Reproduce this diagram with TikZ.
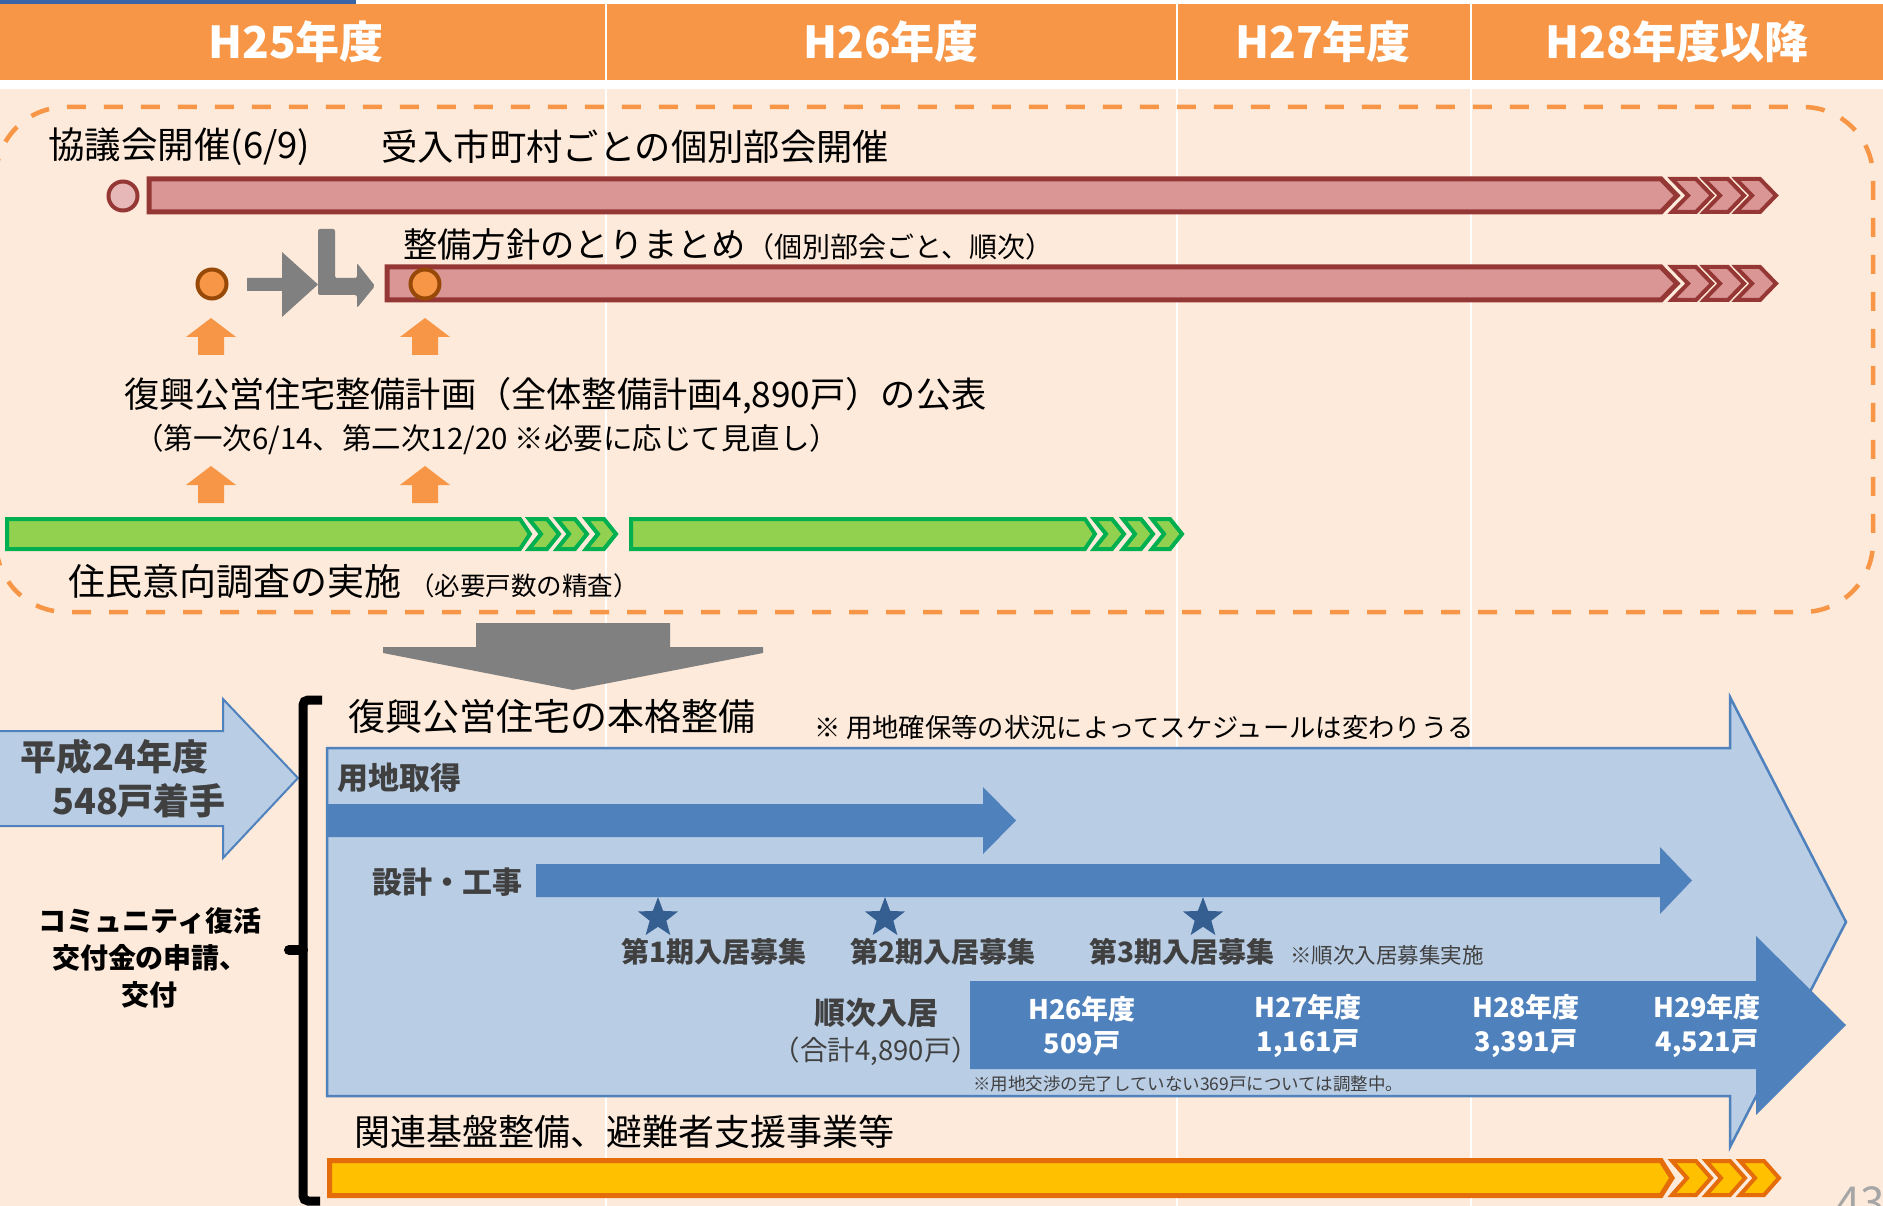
\documentclass[tikz,border=0pt]{standalone}
\usepackage{fontspec}
\setmainfont{Noto Sans CJK JP}
\usepackage{tikz}
\usetikzlibrary{shapes.geometric}

\definecolor{peach}{HTML}{FDEADA}
\definecolor{hdrorange}{HTML}{F79646}
\definecolor{barred}{HTML}{D99694}
\definecolor{bardred}{HTML}{953735}
\definecolor{pinkdot}{HTML}{E6B9B8}
\definecolor{dotbrown}{HTML}{984807}
\definecolor{arrgray}{HTML}{808080}
\definecolor{grnfill}{HTML}{92D050}
\definecolor{grnline}{HTML}{00B050}
\definecolor{ltblue}{HTML}{B9CDE5}
\definecolor{midblue}{HTML}{4F81BD}
\definecolor{starblue}{HTML}{365F91}
\definecolor{yelfill}{HTML}{FFC000}
\definecolor{yelline}{HTML}{E46C0A}
\definecolor{txtgray}{HTML}{404040}
\definecolor{topblue}{HTML}{3B64A6}

\newcommand\fsz[1]{\fontsize{#1}{#1}\selectfont}

\begin{document}
\begin{tikzpicture}[x=1pt,y=-1pt,
    lbl/.style={inner sep=0pt,anchor=west},
    glbl/.style={lbl,text=txtgray,font=\fsz{#1}\bfseries},
    hdr/.style={inner sep=0pt,text=white,font=\fsz{44}\bfseries},
    yr/.style={inner sep=0pt,text=white,align=center,font=\fontsize{27}{34}\selectfont\bfseries},
    redbar/.style={fill=barred,draw=bardred,line width=5pt},
    redchev/.style={fill=barred,draw=bardred,line width=4pt},
    grnbar/.style={fill=grnfill,draw=grnline,line width=4pt},
    yelbar/.style={fill=yelfill,draw=yelline,line width=5pt},
    yelchev/.style={fill=yelfill,draw=yelline,line width=4pt},
    ring/.style={circle,inner sep=0pt,minimum size=29pt,line width=4pt},
    stardot/.style={star,star points=5,star point ratio=2.4,fill=starblue,inner sep=0pt,minimum size=42pt}]

    \useasboundingbox (0,0) rectangle (1883,1206);
    \fill[peach] (0,0) rectangle (1883,1206);
    \fill[white] (0,0) rectangle (1883,89);
    \fill[hdrorange] (0,4) rectangle (1883,80);
    \fill[topblue] (0,0) rectangle (356,4);
    \foreach \dx in {606,1177,1471}
        \draw[white,line width=2.5pt] (\dx,4) -- (\dx,1206);

    \node[hdr] (h25) at (296,42) {H25年度};
    \node[hdr] (h26) at (891,42) {H26年度};
    \node[hdr] (h27) at (1323,42) {H27年度};
    \node[hdr] (h28) at (1677,42) {H28年度以降};

    \draw[hdrorange,line width=4.5pt,dash pattern=on 19pt off 18pt,rounded corners=70pt]
        (-4,107) rectangle (1873,612);

    % upper block
    \node[lbl,font=\fsz{36.5}] (kyogi) at (48,147) {協議会開催(6/9)};
    \node[lbl,font=\fsz{36.3}] (bukai) at (381,147) {受入市町村ごとの個別部会開催};
    \filldraw[redbar] (149,179) -- (1661,179) -- (1677,195.5) -- (1661,212) -- (149,212) -- cycle;
    \node[ring,fill=pinkdot,draw=bardred] (kyogidot) at (123,196) {};

    \node[lbl,font=\fsz{34.3}] (hoshin) at (403,244) {整備方針のとりまとめ{\fsz{28}（個別部会ごと、順次）}};
    \filldraw[redbar] (387,267) -- (1661,267) -- (1677,283.5) -- (1661,300) -- (387,300) -- cycle;
    \foreach \cy in {179,267}
        \foreach \cx in {1672,1704,1736}
            \filldraw[redchev] (\cx,\cy) -- ++(24,0) -- ++(16,16.5) -- ++(-16,16.5) -- ++(-24,0) -- ++(16,-16.5) -- cycle;
    \node[ring,fill=hdrorange,draw=dotbrown] (dot1) at (212,284) {};
    \node[ring,fill=hdrorange,draw=dotbrown] (dot2) at (425,284) {};

    \fill[arrgray] (247,278) -- (282,278) -- (282,252) -- (318,284.5) -- (282,317) -- (282,291) -- (247,291) -- cycle;
    \fill[arrgray,rounded corners=2pt] (318,229) -- (335,229) -- (335,278) -- (357,278) -- (357,263)
        -- (375,286) -- (357,308) -- (357,295) -- (318,295) -- cycle;

    \foreach \ax/\ay in {211/318,425/318,211/466,425/466}
        \fill[hdrorange] (\ax,\ay) -- ++(25,19) -- ++(-12,0) -- ++(0,18) -- ++(-26,0) -- ++(0,-18) -- ++(-12,0) -- cycle;

    \node[lbl,font=\fsz{35.2}] (keikaku) at (124,396) {復興公営住宅整備計画（全体整備計画4,890戸）の公表};
    \node[lbl,font=\fsz{29.5}] (minaoshi) at (134,440) {（第一次6/14、第二次12/20 ※必要に応じて見直し）};

    \filldraw[grnbar] (7,519) -- (520,519) -- (530,534) -- (520,549) -- (7,549) -- cycle;
    \filldraw[grnbar] (631,519) -- (1085,519) -- (1095,534) -- (1085,549) -- (631,549) -- cycle;
    \foreach \cx in {529,557,586,1094,1123,1152}
        \filldraw[grnbar] (\cx,519) -- ++(18,0) -- ++(12,15) -- ++(-12,15) -- ++(-18,0) -- ++(12,-15) -- cycle;
    \node[lbl,font=\fsz{37}] (iko) at (68,582) {住民意向調査の実施 {\fsz{25.5}（必要戸数の精査）}};

    \fill[arrgray] (476,623) -- (670,623) -- (670,647) -- (763,647) -- (763,653) -- (573,690)
        -- (383,653) -- (383,647) -- (476,647) -- cycle;

    % lower block
    \filldraw[fill=ltblue,draw=midblue,line width=2pt] (-3,731) -- (223,731) -- (223,699) -- (298,778)
        -- (223,858) -- (223,826) -- (-3,826) -- cycle;
    \node[glbl=36] (h24a) at (20,757) {平成24年度};
    \node[glbl=36] (h24b) at (52,801) {548戸着手};

    \draw[line width=9pt,rounded corners=5pt] (322,700) -- (303,700) -- (303,1201) -- (320,1201);
    \draw[line width=10pt,line cap=round] (303,950) -- (289,950);
    \node[inner sep=0pt,align=center,font=\fontsize{28}{37}\selectfont\bfseries] (kofukin) at (150,958)
        {コミュニティ復活\\交付金の申請、\\交付};

    \node[lbl,font=\fsz{37}] (honkaku) at (348,716) {復興公営住宅の本格整備};
    \filldraw[fill=ltblue,draw=midblue,line width=2.5pt] (327,748) -- (1730,748) -- (1730,697) -- (1846,922)
        -- (1730,1147) -- (1730,1096) -- (327,1096) -- cycle;
    \node[lbl,font=\fsz{26.3}] (chui) at (814,728) {※ 用地確保等の状況によってスケジュールは変わりうる};

    \node[glbl=31] (yochi) at (337,778) {用地取得};
    \fill[midblue] (327,804) -- (983,804) -- (983,787) -- (1016,820.5) -- (983,854) -- (983,837) -- (327,837) -- cycle;

    \node[glbl=30] (sekkei) at (372,882) {設計・工事};
    \fill[midblue] (536,864) -- (1660,864) -- (1660,847) -- (1692,880.5) -- (1660,914) -- (1660,897) -- (536,897) -- cycle;

    \foreach \sx [count=\i] in {658,885,1203}
        \node[stardot] (star\i) at (\sx,918) {};
    \foreach \bx/\bn in {621/1,850/2,1089/3}
        \node[glbl=28] (boshu\bn) at (\bx,952) {第\bn 期入居募集};
    \node[lbl,text=txtgray,font=\fsz{21.5}] (junji) at (1290,955) {※順次入居募集実施};

    \node[inner sep=0pt,text=txtgray,font=\fsz{31}\bfseries] (nyukyo) at (876,1013) {順次入居};
    \node[inner sep=0pt,text=txtgray,font=\fsz{27.5}] (gokei) at (876,1051) {（合計4,890戸）};
    \fill[midblue] (970,981) -- (1756,981) -- (1756,936) -- (1846,1025) -- (1756,1115) -- (1756,1069) -- (970,1069) -- cycle;
    \node[yr] (y26) at (1082,1026) {H26年度\\509戸};
    \node[yr] (y27) at (1308,1026) {H27年度\\1,161戸};
    \node[yr] (y28) at (1526,1026) {H28年度\\3,391戸};
    \node[yr] (y29) at (1707,1026) {H29年度\\4,521戸};
    \node[lbl,text=txtgray,font=\fsz{17.5}] (chosei) at (973,1084) {※用地交渉の完了していない369戸については調整中。};

    \node[lbl,font=\fsz{36}] (kanren) at (354,1132) {関連基盤整備、避難者支援事業等};
    \filldraw[yelbar] (329.5,1160.5) -- (1661,1160.5) -- (1672,1178) -- (1661,1195.5) -- (329.5,1195.5) -- cycle;
    \foreach \cx in {1672,1706,1740}
        \filldraw[yelchev] (\cx,1161) -- ++(24,0) -- ++(15,17) -- ++(-15,17) -- ++(-24,0) -- ++(15,-17) -- cycle;

    \node[anchor=north west,inner sep=0pt,text=gray!70,font=\fsz{44}] (pageno) at (1836,1186) {43};
\end{tikzpicture}
\end{document}
